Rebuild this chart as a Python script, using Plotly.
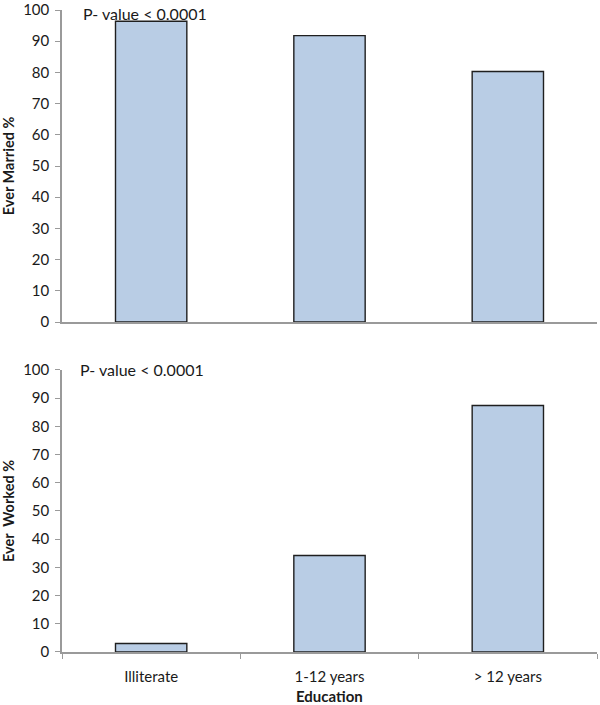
import plotly.graph_objects as go
from plotly.subplots import make_subplots

categories = ["Illiterate", "1-12 years", "> 12 years"]
ever_married = [96.4, 91.8, 80.3]
ever_worked = [3.0, 34.2, 87.4]
y_ticks = list(range(0, 101, 10))

fig = make_subplots(rows=2, cols=1, shared_xaxes=False, vertical_spacing=0.07)

bar_style = dict(marker=dict(color="#b9cde5", line=dict(color="#1f1f1f", width=1.4)), showlegend=False)
fig.add_trace(go.Bar(x=categories, y=ever_married, **bar_style), row=1, col=1)
fig.add_trace(go.Bar(x=categories, y=ever_worked, **bar_style), row=2, col=1)

font_family = "Lato, 'Open Sans', sans-serif"
axis_col = "#9a9a9a"

yaxis_common = dict(range=[0, 100], tickvals=y_ticks, showline=True, linecolor=axis_col,
                    linewidth=1.5, ticks="outside", ticklen=5, tickcolor=axis_col, showgrid=False,
                    zeroline=False, tickfont=dict(size=15), ticklabelstandoff=3, automargin=False,
                    ticklabeloverflow="allow")

fig.update_layout(
    width=600, height=705,
    margin=dict(l=62, r=3, t=10, b=53),
    plot_bgcolor="white", paper_bgcolor="white",
    bargap=0.6,
    font=dict(family=font_family, size=15, color="#1a1a1a"),
    xaxis=dict(domain=[0, 1], showticklabels=False, ticks="", showline=True, linecolor=axis_col,
               linewidth=1.5, range=[-0.5, 2.5], showgrid=False, automargin=False),
    xaxis2=dict(domain=[0, 1], showline=True, linecolor=axis_col, linewidth=1.5, range=[-0.5, 2.5],
                ticks="outside", tickson="boundaries", ticklen=5, tickcolor=axis_col, showgrid=False,
                tickfont=dict(size=15), ticklabelstandoff=10, automargin=False),
    yaxis=dict(domain=[0.514, 1], **yaxis_common,
               title=dict(text="<b>Ever Married %</b>", font=dict(size=14.5), standoff=9)),
    yaxis2=dict(domain=[0, 0.4393], **yaxis_common,
                title=dict(text="<b>Ever  Worked %</b>", font=dict(size=14.5), standoff=9)),
)

fig.add_annotation(text="<b>Education</b>", xref="paper", yref="paper", x=0.5, y=0,
                   xanchor="center", yanchor="middle", yshift=-44, showarrow=False,
                   font=dict(size=15))
fig.add_annotation(text="P- value < 0.0001", xref="paper", yref="y", x=0.035, y=99,
                   xanchor="left", yanchor="middle", showarrow=False, font=dict(size=16))
fig.add_annotation(text="P- value < 0.0001", xref="paper", yref="y2", x=0.03, y=100,
                   xanchor="left", yanchor="middle", showarrow=False, font=dict(size=16))

fig.write_html("out.html", config={"displayModeBar": False},
               post_script="document.body.style.margin='0';")
